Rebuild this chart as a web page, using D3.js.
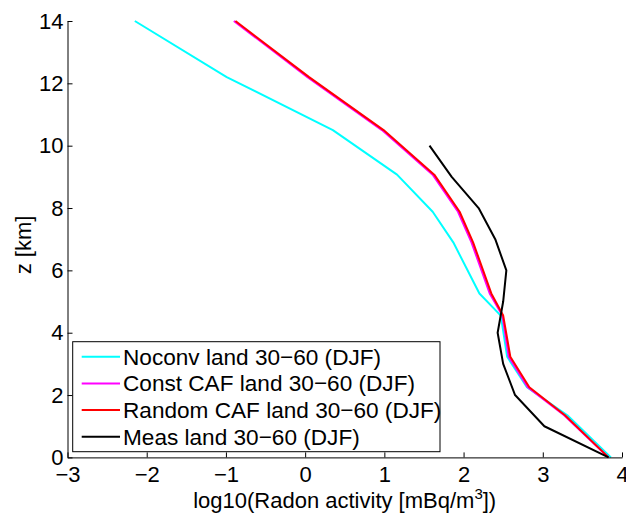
<!DOCTYPE html>
<html><head><meta charset="utf-8">
<script src="https://cdn.jsdelivr.net/npm/d3@7"></script>
<style>body{margin:0;background:#fff}svg{display:block}text{font-family:"Liberation Sans",Arial,sans-serif}</style>
</head><body><svg id="c" width="626" height="517"></svg>
<script>
const modelZ   = [0, 1.35, 2.25, 3.23, 4.55, 5.26, 6.9, 7.88, 9.07, 10.5, 12.2, 14];
const noconv   = [3.86, 3.31, 2.80, 2.55, 2.47, 2.20, 1.87, 1.61, 1.16, 0.35, -0.99, -2.15];
const constCAF = [3.83, 3.27, 2.81, 2.57, 2.49, 2.33, 2.10, 1.93, 1.61, 0.97, 0.03, -0.90];
const randCAF  = [3.83, 3.28, 2.83, 2.59, 2.50, 2.35, 2.12, 1.95, 1.63, 0.99, 0.05, -0.88];
const measZ    = [0, 1, 2, 3, 4, 5, 6, 7, 8, 9, 10];
const meas     = [3.83, 3.02, 2.65, 2.50, 2.43, 2.50, 2.54, 2.40, 2.19, 1.85, 1.57];
const xTicks = [-3, -2, -1, 0, 1, 2, 3, 4];
const yTicks = [0, 2, 4, 6, 8, 10, 12, 14];
const seriesNames = ["Noconv land 30\u221260 (DJF)", "Const CAF land 30\u221260 (DJF)", "Random CAF land 30\u221260 (DJF)", "Meas land 30\u221260 (DJF)"];
const seriesColors = ["#00ffff", "#ff00ff", "#ff0000", "#000000"];

const svg = d3.select("#c");
const x = d3.scaleLinear([-3, 4], [67.5, 622]);
const y = d3.scaleLinear([0, 14], [457.4, 21]);
const fmt = d => String(d).replace("-", "\u2212");

const series = [
  {z: modelZ, v: noconv},
  {z: modelZ, v: constCAF},
  {z: modelZ, v: randCAF},
  {z: measZ, v: meas}
];
const line = d3.line().x(d => x(d[0])).y(d => y(d[1]));
series.forEach((s, i) => {
  svg.append("path")
    .attr("d", line(s.v.map((v, k) => [v, s.z[k]])))
    .attr("fill", "none").attr("stroke", seriesColors[i]).attr("stroke-width", 2)
    .attr("stroke-linejoin", "round");
});

const gx = svg.append("g").attr("transform", `translate(0,${y(0)})`)
  .call(d3.axisBottom(x).tickValues(xTicks).tickFormat(fmt).tickSize(-5).tickSizeOuter(0).tickPadding(9));
const gy = svg.append("g").attr("transform", `translate(${x(-3)},0)`)
  .call(d3.axisLeft(y).tickValues(yTicks).tickFormat(fmt).tickSize(-5).tickSizeOuter(0).tickPadding(4));
[gx, gy].forEach(g => {
  g.selectAll("text").attr("font-size", 22).attr("fill", "#000").attr("font-family", '"Liberation Sans",Arial,sans-serif');
  g.selectAll("line,path").attr("stroke", "#000");
});

// legend
const lg = svg.append("g");
lg.append("rect").attr("x", 72.7).attr("y", 341.7).attr("width", 367.3).attr("height", 110)
  .attr("fill", "#fff").attr("stroke", "#000").attr("stroke-width", 1);
seriesNames.forEach((n, i) => {
  const yy = 356.7 + i * 26.7;
  lg.append("line").attr("x1", 81.7).attr("x2", 120).attr("y1", yy).attr("y2", yy)
    .attr("stroke", seriesColors[i]).attr("stroke-width", 2);
  lg.append("text").attr("x", 123).attr("y", yy + 8).attr("font-size", 22.6).text(n);
});

// axis labels
const xl = svg.append("text").attr("x", 344.7).attr("y", 508).attr("text-anchor", "middle").attr("font-size", 22);
xl.append("tspan").text("log10(Radon activity [mBq/m");
xl.append("tspan").attr("font-size", 15).attr("dy", -9).text("3");
xl.append("tspan").attr("dy", 9).text("])");
svg.append("text").attr("transform", "translate(31,245) rotate(-90)").attr("text-anchor", "middle").attr("font-size", 22).text("z [km]");
</script></body></html>
